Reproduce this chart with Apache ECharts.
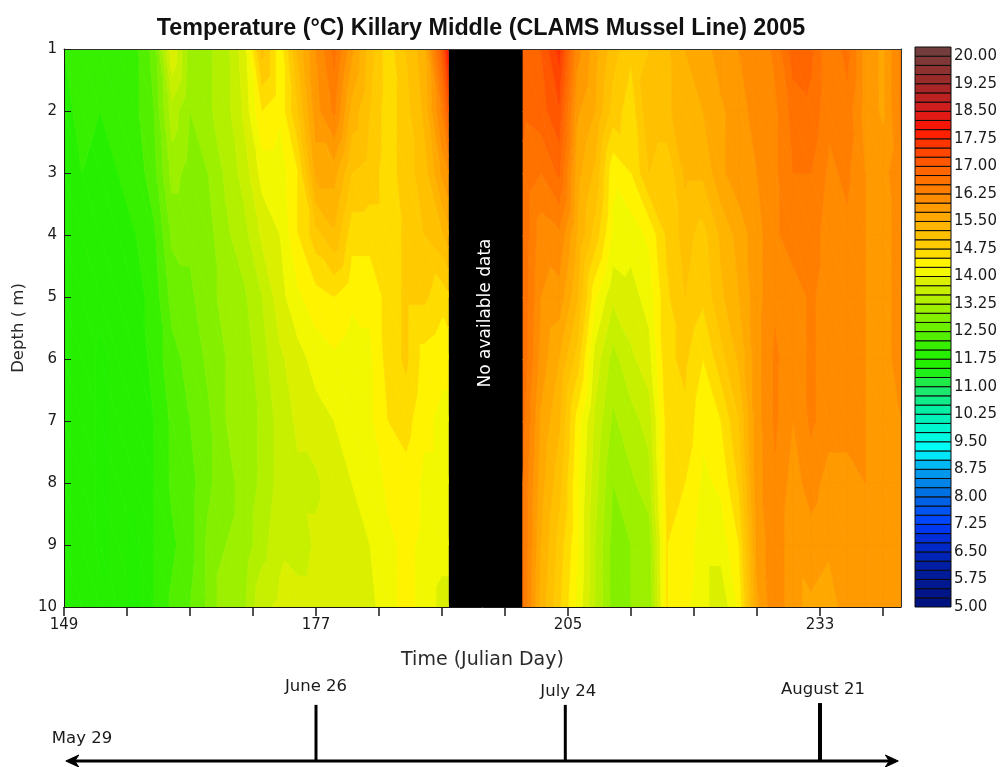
<!DOCTYPE html>
<html>
<head>
<meta charset="utf-8">
<style>html,body{margin:0;padding:0;background:#fff}#c{width:1004px;height:767px}</style>
<script src="https://cdn.jsdelivr.net/npm/echarts@6/dist/echarts.min.js"></script>
</head>
<body>
<div id="c"></div>
<script>
// ---- data ----
const depths = [1,2,3,4,5,6,7,8,9,10];
const daysBeforeGap = [149,151,153,155,157,159,161,163,165,167,169,171,173,175,177,179,181,183,185,187,189,191,191.7];
const daysAfterGap = [200,202,204,206,208,210,212,214,216,218,220,222,224,226,228,230,232,234,236,238,240,242];

const before1m = [12.0,12.2,12.0,12.1,12.2,12.6,14.0,13.1,13.2,13.4,13.9,15.1,14.3,15.3,16.0,16.6,15.8,15.1,14.6,15.0,15.4,17.0,18.0];
const before2m = [11.9,12.1,12.0,12.1,12.2,12.5,13.4,13.0,13.2,13.4,13.8,14.5,14.3,15.0,15.9,16.3,15.4,15.0,14.6,14.9,15.3,16.3,17.0];
const before3m = [11.9,12.0,11.9,12.0,12.1,12.4,13.1,12.9,13.0,13.3,13.6,14.1,14.1,14.5,15.6,15.6,15.0,14.9,14.6,14.9,15.1,15.8,16.0];
const before4m = [11.9,11.9,11.8,11.9,12.0,12.2,12.8,12.8,12.9,13.2,13.4,13.8,14.0,14.5,14.9,15.2,14.6,14.6,14.6,14.8,15.0,15.2,15.4];
const before5m = [11.9,11.9,11.8,11.8,11.9,12.1,12.6,12.7,12.9,13.1,13.2,13.5,13.9,14.2,14.4,14.5,14.3,14.3,14.6,14.8,14.8,14.6,14.7];
const before6m = [11.9,11.9,11.7,11.8,11.8,12.1,12.4,12.6,12.8,13.0,13.1,13.4,13.7,13.9,14.1,14.2,14.1,14.2,14.6,14.8,14.4,14.3,14.3];
const before7m = [11.9,11.9,11.7,11.8,11.8,12.0,12.3,12.5,12.7,13.0,13.1,13.3,13.6,13.8,13.9,14.0,14.0,14.2,14.5,14.6,14.3,14.2,14.2];
const before8m = [11.9,11.9,11.7,11.8,11.8,12.0,12.3,12.4,12.7,12.9,13.1,13.3,13.6,13.7,13.7,13.9,14.0,14.1,14.3,14.4,14.2,14.2,14.2];
const before9m = [11.9,11.9,11.7,11.8,11.7,12.0,12.2,12.4,12.8,13.0,13.1,13.4,13.7,13.6,13.8,13.9,13.9,14.0,14.2,14.3,14.2,14.1,14.1];
const before10m = [12.0,12.0,11.8,11.8,11.7,12.0,12.3,12.5,12.8,13.2,13.2,13.7,13.8,13.9,13.9,13.9,13.8,13.9,14.2,14.3,14.2,13.9,13.9];

const after1m = [16.8,17.0,17.6,16.1,15.6,15.1,14.8,15.0,15.2,15.5,15.6,15.9,16.0,16.1,16.3,16.9,16.8,16.3,16.6,15.9,15.7,16.3];
const after2m = [16.8,16.9,17.2,15.8,15.5,14.9,14.6,15.2,15.2,15.4,15.5,15.7,15.9,16.1,16.2,16.6,16.7,16.3,16.4,15.9,15.7,16.3];
const after3m = [16.7,16.5,16.8,15.6,15.2,14.3,14.5,15.0,14.8,15.3,15.3,15.7,15.9,16.0,16.2,16.5,16.5,16.2,16.3,16.0,15.9,16.2];
const after4m = [16.7,16.1,16.2,15.5,14.9,14.2,14.1,14.3,14.8,15.1,14.9,15.3,15.6,15.9,16.2,16.4,16.4,16.1,16.2,16.0,15.9,16.1];
const after5m = [16.7,16.0,15.9,15.3,14.3,13.8,13.9,14.1,14.7,15.0,14.8,15.2,15.5,15.9,16.2,16.1,16.3,16.1,16.1,16.0,15.9,16.1];
const after6m = [16.7,15.9,15.5,14.9,13.9,13.4,13.7,13.9,14.7,14.8,14.5,14.9,15.3,15.9,16.3,16.1,16.3,16.1,16.1,16.0,15.9,16.1];
const after7m = [16.6,15.7,15.3,14.4,13.7,13.2,13.4,13.6,14.6,14.7,14.3,14.5,15.0,15.9,16.3,16.0,16.3,16.1,16.1,16.0,15.9,16.0];
const after8m = [16.5,15.6,15.1,14.3,13.6,13.0,13.2,13.4,14.6,14.5,14.2,14.3,14.8,15.9,16.2,15.9,16.1,15.9,15.9,16.0,15.9,16.0];
const after9m = [16.5,15.5,14.9,14.3,13.5,12.9,13.0,13.1,14.5,14.4,14.1,14.1,14.5,15.8,16.2,15.8,15.9,15.8,15.9,15.9,15.9,16.0];
const after10m = [16.5,15.4,14.8,14.2,13.5,12.9,13.0,13.0,14.5,14.3,14.1,13.8,14.3,15.7,16.2,15.8,15.7,15.6,15.9,15.9,15.9,16.0];

const gapDays = [191.7, 200];
const gapLabel = 'No available data';
const dayTicks = [149,156,163,170,177,184,191,198,205,212,219,226,233,240];
const dayLabels = [149,177,205,233];
const legendLabels = [5,5.75,6.5,7.25,8,8.75,9.5,10.25,11,11.75,12.5,13.25,14,14.75,15.5,16.25,17,17.75,18.5,19.25,20];
const legendBands = [5,5.25,5.5,5.75,6,6.25,6.5,6.75,7,7.25,7.5,7.75,8,8.25,8.5,8.75,9,9.25,9.5,9.75,10,10.25,10.5,10.75,11,11.25,11.5,11.75,12,12.25,12.5,12.75,13,13.25,13.5,13.75,14,14.25,14.5,14.75,15,15.25,15.5,15.75,16,16.25,16.5,16.75,17,17.25,17.5,17.75,18,18.25,18.5,18.75,19,19.25,19.5,19.75,20];
const timelineSpan = [149.2, 241.7];
const timelineDays = [177, 204.7, 233];
const timelineLabels = ['June 26','July 24','August 21'];
const startDate = 'May 29';
const startDateDay = 151;

// ---- colour scale ----
const bandStep = 0.25;
const colourStops = [
  [5,'#00107c'],[6,'#001c9c'],[7,'#0030e0'],[7.25,'#0040ff'],[8,'#0068e0'],[8.75,'#00a0f0'],[9.25,'#00ffff'],
  [10.25,'#00f0b0'],[11,'#20e860'],[11.5,'#20f000'],[12,'#28f000'],[12.5,'#60f000'],[13.25,'#a8f000'],[14,'#e4f000'],[14.25,'#ffff00'],
  [14.75,'#ffd000'],[15.5,'#ffb000'],[16.25,'#ff8400'],[17,'#ff6000'],[17.75,'#ff2c00'],[18,'#ff1400'],[18.5,'#d81c1c'],[19.25,'#a02828'],[20.25,'#6c4040']
];
function hexToRgb(h){return [1,3,5].map(i=>parseInt(h.substr(i,2),16));}
function bandColour(low){
  const v = low + bandStep/2;
  for (let i=0;i<colourStops.length-1;i++){
    const a=colourStops[i], b=colourStops[i+1];
    if (v<=b[0]){
      const f=Math.max(0,(v-a[0])/(b[0]-a[0]));
      const ca=hexToRgb(a[1]), cb=hexToRgb(b[1]);
      return 'rgb('+ca.map((c,k)=>Math.round(c+(cb[k]-c)*f)).join(',')+')';
    }
  }
  return colourStops[colourStops.length-1][1];
}

// ---- cell records for the filled contours ----
const rowsBefore=[before1m,before2m,before3m,before4m,before5m,before6m,before7m,before8m,before9m,before10m];
const rowsAfter=[after1m,after2m,after3m,after4m,after5m,after6m,after7m,after8m,after9m,after10m];
function cells(days,rows){
  const out=[];
  for(let r=0;r<depths.length-1;r++) for(let c=0;c<days.length-1;c++){
    out.push([days[c],days[c+1],depths[r],depths[r+1],rows[r][c],rows[r][c+1],rows[r+1][c],rows[r+1][c+1]]);
  }
  return out;
}
function clip(poly,level,keepAbove){
  const out=[];
  for(let i=0;i<poly.length;i++){
    const p=poly[i], q=poly[(i+1)%poly.length];
    const pIn=keepAbove?p[2]>=level:p[2]<=level;
    const qIn=keepAbove?q[2]>=level:q[2]<=level;
    if(pIn) out.push(p);
    if(pIn!==qIn){
      const f=(level-p[2])/(q[2]-p[2]);
      out.push([p[0]+(q[0]-p[0])*f,p[1]+(q[1]-p[1])*f,level]);
    }
  }
  return out;
}
function renderCell(params,api){
  const d0=api.value(0),d1=api.value(1),z0=api.value(2),z1=api.value(3);
  const t00=api.value(4),t10=api.value(5),t01=api.value(6),t11=api.value(7);
  const a=api.coord([d0,z0]),b=api.coord([d1,z0]),c=api.coord([d0,z1]),e=api.coord([d1,z1]);
  const tris=[[[a[0],a[1],t00],[b[0],b[1],t10],[e[0],e[1],t11]],[[a[0],a[1],t00],[e[0],e[1],t11],[c[0],c[1],t01]]];
  const children=[];
  tris.forEach(tri=>{
    const ts=tri.map(p=>p[2]);
    const lo=Math.floor((Math.min(...ts))/bandStep)*bandStep;
    const hi=Math.max(...ts);
    for(let l=lo;l<=hi;l+=bandStep){
      let poly=clip(tri,l,true);
      if(poly.length) poly=clip(poly,l+bandStep,false);
      if(poly.length<3) continue;
      const col=bandColour(l);
      children.push({type:'polygon',silent:true,shape:{points:poly.map(p=>[p[0],p[1]])},style:{fill:col,stroke:col,lineWidth:0.7}});
    }
  });
  return {type:'group',children};
}
function contourSeries(days,rows){
  return {type:'custom',xAxisIndex:0,yAxisIndex:0,coordinateSystem:'cartesian2d',clip:true,silent:true,z:2,
    renderItem:renderCell,encode:{x:[0,1],y:[2,3]},data:cells(days,rows),animation:false};
}

const font='"Liberation Sans", Arial, sans-serif';
const wide='"DejaVu Sans", sans-serif';
const ink='#1a1a1a';
const labelLift=[18,13,13], labelShift=[0,3,3], tickTop=[0.92,0.92,0.95], tickWidth=[3,3,4];

const option={
  animation:false,
  backgroundColor:'#fff',
  title:{text:'Temperature (°C) Killary Middle (CLAMS Mussel Line) 2005',left:476,top:12,textAlign:'center',
    textStyle:{fontFamily:font,fontSize:23.3,fontWeight:'bold',color:'#111'}},
  grid:[
    {left:64,top:49,width:837,height:558,outerBoundsMode:'none'},
    {left:915,top:47,width:36,height:560,outerBoundsMode:'none'},
    {left:64,top:700,width:837,height:61,outerBoundsMode:'none'}
  ],
  xAxis:[
    {gridIndex:0,type:'value',min:149,max:242,position:'bottom',
     name:'Time (Julian Day)',nameLocation:'middle',nameGap:44,
     nameTextStyle:{fontFamily:wide,fontSize:19,color:'#2a2a2a'},
     axisLine:{show:true,onZero:false,lineStyle:{color:ink,width:1}},
     axisTick:{show:true,length:9,customValues:dayTicks,lineStyle:{color:ink,width:1.5}},
     axisLabel:{customValues:dayLabels,fontFamily:wide,fontSize:15,color:ink,margin:11,hideOverlap:false},
     splitLine:{show:false},z:6},
    {gridIndex:0,type:'value',min:149,max:242,position:'top',axisLine:{show:true,onZero:false,lineStyle:{color:'#333',width:1}},
     axisTick:{show:false},axisLabel:{show:false},splitLine:{show:false},z:6},
    {gridIndex:1,type:'value',min:0,max:1,show:false},
    {gridIndex:2,type:'value',min:149,max:242,position:'bottom',
     axisLine:{show:false},axisTick:{show:false},axisLabel:{show:false},splitLine:{show:false}}
  ],
  yAxis:[
    {gridIndex:0,type:'value',inverse:true,min:1,max:10,interval:1,position:'left',
     name:'Depth ( m)',nameLocation:'middle',nameGap:37,nameRotate:90,
     nameTextStyle:{fontFamily:wide,fontSize:16.5,color:'#2a2a2a'},
     axisLine:{show:true,onZero:false,lineStyle:{color:ink,width:1}},
     axisTick:{show:true,inside:true,length:7,lineStyle:{color:ink,width:1}},
     axisLabel:{fontFamily:wide,fontSize:15,color:ink,margin:7,padding:[3,0,0,0]},
     splitLine:{show:false},z:6},
    {gridIndex:0,type:'value',inverse:true,min:1,max:10,position:'right',axisLine:{show:true,onZero:false,lineStyle:{color:'#333',width:1}},
     axisTick:{show:false},axisLabel:{show:false},splitLine:{show:false},z:6},
    {gridIndex:1,type:'value',min:5,max:20.25,position:'right',
     axisLine:{show:false},axisTick:{show:false},splitLine:{show:false},
     axisLabel:{customValues:legendLabels,formatter:v=>v.toFixed(2),fontFamily:wide,fontSize:15,color:ink,margin:3,padding:[4,0,0,0]}},
    {gridIndex:2,type:'value',min:0,max:1,show:false}
  ],
  series:[
    contourSeries(daysBeforeGap,rowsBefore),
    contourSeries(daysAfterGap,rowsAfter),
    {type:'line',xAxisIndex:0,yAxisIndex:0,data:[],silent:true,
     markArea:{silent:true,itemStyle:{color:'#000',opacity:1},
       label:{show:true,position:'inside',rotate:90,color:'#fff',fontFamily:wide,fontSize:17,offset:[15,0],formatter:gapLabel},
       data:[[{xAxis:gapDays[0],yAxis:1},{xAxis:gapDays[1],yAxis:10}]]}},
    {type:'custom',xAxisIndex:2,yAxisIndex:2,coordinateSystem:'cartesian2d',silent:true,clip:false,
     encode:{y:0},data:legendBands.map(v=>[v]),
     renderItem(p,api){
       const low=api.value(0);
       const a=api.coord([0,low+bandStep]),b=api.coord([1,low]);
       return {type:'rect',silent:true,shape:{x:a[0],y:a[1],width:b[0]-a[0],height:b[1]-a[1]},
         style:{fill:bandColour(low),stroke:'#0c0c0c',lineWidth:1}};
     }},
    {type:'custom',xAxisIndex:3,yAxisIndex:3,coordinateSystem:'cartesian2d',silent:true,clip:false,
     encode:{x:0},data:timelineDays.map(d=>[d]),
     renderItem(p,api){
       const i=p.dataIndex;
       const bot=api.coord([api.value(0),0]),top=api.coord([api.value(0),tickTop[i]]);
       return {type:'group',children:[
         {type:'line',silent:true,shape:{x1:bot[0],y1:bot[1],x2:top[0],y2:top[1]},style:{stroke:'#000',lineWidth:tickWidth[i]}},
         {type:'text',silent:true,x:top[0]+labelShift[i],y:top[1]-labelLift[i],style:{text:timelineLabels[i],fill:ink,font:'16.5px '+wide,textAlign:'center',textVerticalAlign:'middle'}}
       ]};
     }},
    {type:'custom',xAxisIndex:3,yAxisIndex:3,coordinateSystem:'cartesian2d',silent:true,clip:false,
     encode:{x:0},data:[[timelineSpan[0]]],
     renderItem(p,api){
       const l=api.coord([timelineSpan[0],0]),r=api.coord([timelineSpan[1],0]),s=api.coord([startDateDay,0.36]);
       const y=l[1];
       return {type:'group',children:[
         {type:'line',silent:true,shape:{x1:l[0]+4,y1:y,x2:r[0]-4,y2:y},style:{stroke:'#000',lineWidth:3}},
         {type:'polygon',silent:true,shape:{points:[[l[0],y],[l[0]+13,y-6],[l[0]+9,y],[l[0]+13,y+6]]},style:{fill:'#000',stroke:'#000',lineWidth:1}},
         {type:'polygon',silent:true,shape:{points:[[r[0],y],[r[0]-13,y-6],[r[0]-9,y],[r[0]-13,y+6]]},style:{fill:'#000',stroke:'#000',lineWidth:1}},
         {type:'text',silent:true,x:s[0],y:s[1],style:{text:startDate,fill:ink,font:'16.5px '+wide,textAlign:'center',textVerticalAlign:'middle'}}
       ]};
     }}
  ]
};
const chart=echarts.init(document.getElementById('c'),null,{renderer:'canvas'});
chart.setOption(option);
</script>
</body>
</html>
